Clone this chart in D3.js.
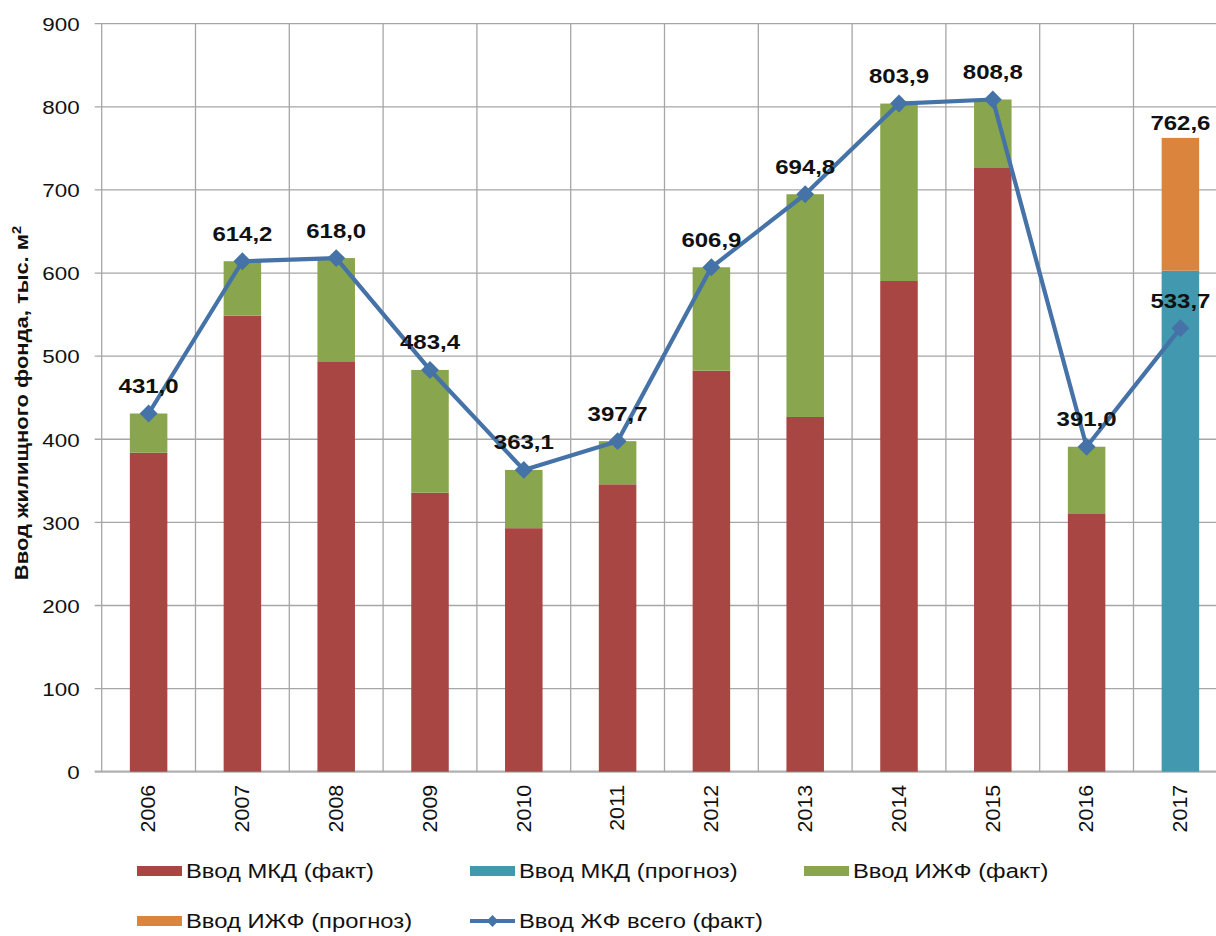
<!DOCTYPE html>
<html><head><meta charset="utf-8">
<script src="https://cdn.jsdelivr.net/npm/d3@7"></script>
<style>body{margin:0;background:#fff}svg{display:block}</style>
</head><body>
<svg id="c" width="1216" height="936"></svg>
<script>
const years = ["2006","2007","2008","2009","2010","2011","2012","2013","2014","2015","2016","2017"];
const mkdFact = [383.8,548.7,493.8,335.7,293.0,345.8,482.5,426.8,590.4,727.2,310.9,0];
const mkdForecast = [0,0,0,0,0,0,0,0,0,0,0,602.8];
const izhfFact = [47.2,65.5,124.2,147.7,70.1,51.9,124.4,268.0,213.5,81.6,80.1,0];
const izhfForecast = [0,0,0,0,0,0,0,0,0,0,0,159.8];
const totalFact = [431.0,614.2,618.0,483.4,363.1,397.7,606.9,694.8,803.9,808.8,391.0,533.7];
const forecastTotalLabel = ["","","","","","","","","","","","762,6"];
const yTicks = [0,100,200,300,400,500,600,700,800,900];
const seriesNames = ["Ввод МКД (факт)","Ввод МКД (прогноз)","Ввод ИЖФ (факт)","Ввод ИЖФ (прогноз)","Ввод ЖФ всего (факт)"];
const colors = ["#A84644","#4198AF","#89A54E","#DB843D","#4572A7"];

const svg = d3.select("#c");
const L = 101.7, R = 1227.3, T = 23.7, B = 771.7;
const x = d3.scaleBand().domain(years).range([L, R]).paddingInner(0.6).paddingOuter(0.3);
const xc = d3.scaleBand().domain(years).range([L, R]);
const y = d3.scaleLinear().domain([0, 900]).range([B, T]);
const font = "'Liberation Sans', Arial, sans-serif";

// grid
const g = svg.append("g");
g.selectAll("line.h").data(yTicks).join("line")
  .attr("x1", L - 7).attr("x2", R).attr("y1", d => y(d)).attr("y2", d => y(d))
  .attr("stroke", d => d === 0 ? "#b0b0b0" : "#a6a6a6").attr("stroke-width", d => d === 0 ? 2.2 : 1.3);
const vlines = years.map(d => xc(d)).concat([R]);
g.selectAll("line.v").data(vlines).join("line")
  .attr("x1", d => d).attr("x2", d => d).attr("y1", T).attr("y2", B)
  .attr("stroke", "#a6a6a6").attr("stroke-width", 1.3);

// y axis labels
const yAxis = d3.axisLeft(y).tickValues(yTicks).tickSize(0).tickPadding(0);
const ya = svg.append("g").attr("transform", `translate(${L - 22},0)`).call(yAxis);
ya.select(".domain").remove();
ya.selectAll("text").attr("font-family", font).attr("font-size", 19).attr("fill", "#111")
  .attr("dy", "0.36em").attr("x", 0).attr("transform", "scale(1.18,1)");

// x axis labels
const xAxis = d3.axisBottom(xc).tickSize(0).tickPadding(0);
const xa = svg.append("g").attr("transform", `translate(0,${B})`).call(xAxis);
xa.select(".domain").remove();
xa.selectAll("text").attr("font-family", font).attr("font-size", 19.5).attr("fill", "#111")
  .attr("text-anchor", "end").attr("dy", "0.35em")
  .attr("transform", "translate(0,13) rotate(-90) scale(1.1,1)").attr("x", 0).attr("y", 0);

// stacked bars
const keys = ["mkdFact","mkdForecast","izhfFact","izhfForecast"];
const rows = years.map((yr, i) => ({year: yr, mkdFact: mkdFact[i], mkdForecast: mkdForecast[i], izhfFact: izhfFact[i], izhfForecast: izhfForecast[i]}));
const stack = d3.stack().keys(keys)(rows);
svg.append("g").selectAll("g").data(stack).join("g").attr("fill", (d, i) => colors[i])
  .selectAll("rect").data(d => d).join("rect")
  .attr("x", d => x(d.data.year)).attr("width", x.bandwidth())
  .attr("y", d => y(d[1])).attr("height", d => y(d[0]) - y(d[1]));

// line
const cx = d => xc(d) + xc.bandwidth() / 2;
const line = d3.line().x((d, i) => cx(years[i])).y(d => y(d));
svg.append("path").datum(totalFact).attr("d", line).attr("fill", "none")
  .attr("stroke", colors[4]).attr("stroke-width", 4.2).attr("stroke-linejoin", "round");
svg.append("g").selectAll("path").data(totalFact).join("path")
  .attr("d", d3.symbol(d3.symbolSquare, 160)())
  .attr("transform", (d, i) => `translate(${cx(years[i])},${y(d)}) rotate(45)`)
  .attr("fill", colors[4]);

// point labels
const fmt = v => v.toFixed(1).replace(".", ",");
svg.append("g").selectAll("text").data(totalFact).join("text")
  .attr("transform", (d, i) => `translate(${cx(years[i])},${y(d) - 20.5}) scale(1.17,1)`)
  .attr("text-anchor", "middle").attr("font-family", font).attr("font-weight", "bold")
  .attr("font-size", 20.5).attr("fill", "#111").text(d => fmt(d));
// forecast total label
svg.append("g").selectAll("text").data(forecastTotalLabel.map((t, i) => ({t, i, v: mkdForecast[i] + izhfForecast[i]})).filter(d => d.t))
  .join("text")
  .attr("transform", d => `translate(${cx(years[d.i])},${y(d.v) - 8}) scale(1.17,1)`)
  .attr("text-anchor", "middle").attr("font-family", font).attr("font-weight", "bold")
  .attr("font-size", 20.5).attr("fill", "#111").text(d => d.t);

// y title
svg.append("text").attr("transform", "translate(28,403) rotate(-90) scale(1.22,1)")
  .attr("text-anchor", "middle").attr("font-family", font).attr("font-weight", "bold")
  .attr("font-size", 18).attr("fill", "#111")
  .html("Ввод жилищного фонда, тыс. м<tspan dy='-7' font-size='12'>2</tspan>");

// legend
const leg = [
  {n: 0, x: 137, y: 871}, {n: 1, x: 470, y: 871}, {n: 2, x: 804, y: 871},
  {n: 3, x: 137, y: 921}, {n: 4, x: 470, y: 921}
];
const lg = svg.append("g").selectAll("g").data(leg).join("g").attr("transform", d => `translate(${d.x},${d.y})`);
lg.filter(d => d.n < 4).append("rect").attr("x", 0).attr("y", -5).attr("width", 45).attr("height", 10).attr("fill", d => colors[d.n]);
lg.filter(d => d.n === 4).append("line").attr("x1", 0).attr("x2", 45).attr("y1", 0).attr("y2", 0).attr("stroke", colors[4]).attr("stroke-width", 4);
lg.filter(d => d.n === 4).append("path").attr("d", d3.symbol(d3.symbolSquare, 70)()).attr("transform", "translate(22.5,0) rotate(45)").attr("fill", colors[4]);
lg.append("text").attr("transform", "translate(49,0) scale(1.22,1)").attr("dy", "0.35em").attr("font-family", font)
  .attr("font-size", 19.5).attr("fill", "#111").text(d => seriesNames[d.n]);
</script>
</body></html>
